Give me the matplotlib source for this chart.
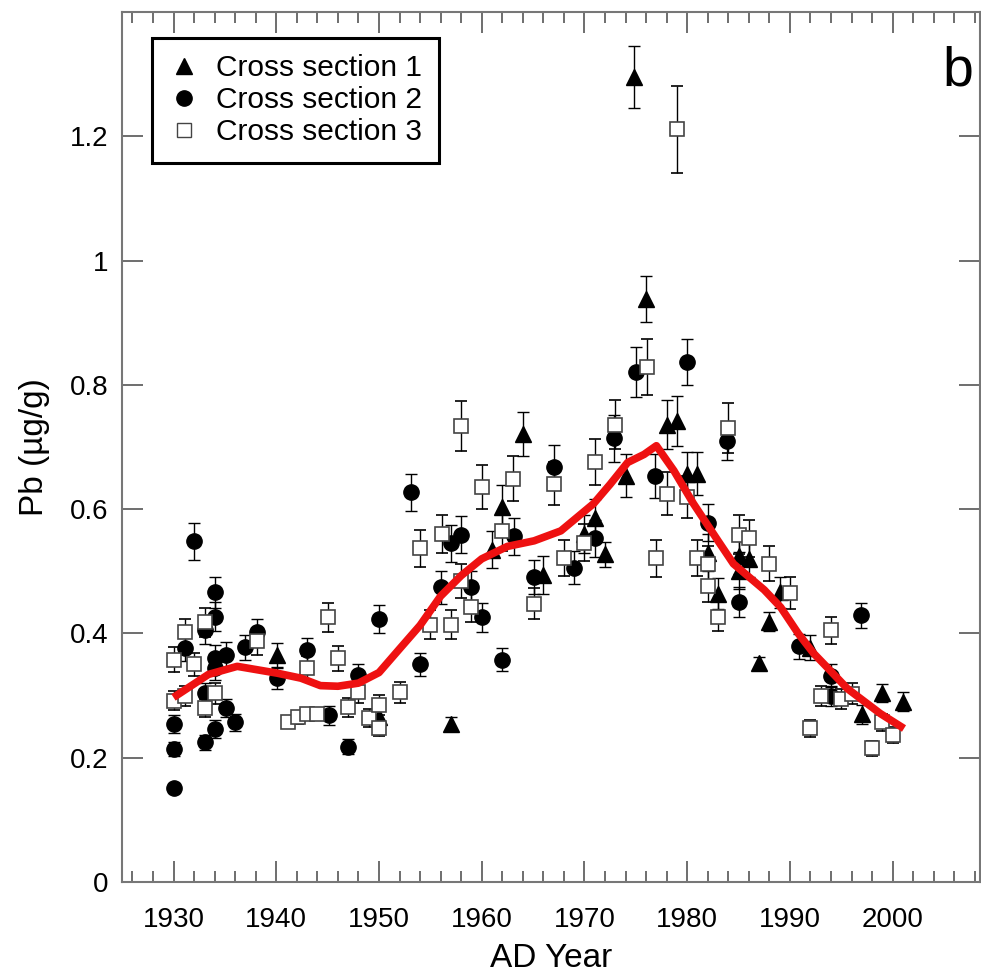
import matplotlib
matplotlib.use('Agg')
import matplotlib.pyplot as plt
from matplotlib.lines import Line2D
from matplotlib.ticker import MultipleLocator

# cross section 1 (triangles)
cs1_year = [1940.1, 1950.0, 1957.0, 1961.0, 1962.0, 1964.0, 1966.0, 1970.0, 1971.0,
            1972.0, 1974.0, 1974.8, 1976.0, 1978.0, 1979.0, 1980.0, 1981.0, 1982.0,
            1983.0, 1985.0, 1985.0, 1986.0, 1987.0, 1988.0, 1989.0, 1992.0, 1997.0,
            1999.0, 2001.0]
cs1_pb = [0.365, 0.265, 0.255, 0.535, 0.604, 0.721, 0.494, 0.560, 0.586,
          0.527, 0.654, 1.296, 0.938, 0.736, 0.742, 0.657, 0.657, 0.530,
          0.464, 0.525, 0.501, 0.520, 0.352, 0.419, 0.466, 0.377, 0.270,
          0.304, 0.290]
cs1_err = [0.020, 0.015, 0.010, 0.030, 0.035, 0.035, 0.030, 0.030, 0.030,
           0.020, 0.035, 0.050, 0.037, 0.040, 0.040, 0.035, 0.035, 0.030,
           0.025, 0.030, 0.030, 0.030, 0.010, 0.015, 0.025, 0.020, 0.015,
           0.015, 0.015]

# cross section 2 (circles)
cs2_year = [1930.0, 1930.0, 1930.0, 1931.1, 1932.0, 1933.1, 1933.1, 1933.1, 1934.0,
            1934.0, 1934.0, 1934.0, 1934.0, 1935.1, 1935.1, 1936.0, 1937.0, 1938.1,
            1940.1, 1943.0, 1945.1, 1947.0, 1948.0, 1950.0, 1953.1, 1954.0, 1956.0,
            1957.0, 1958.0, 1959.0, 1960.0, 1962.0, 1963.1, 1965.1, 1967.0, 1969.0,
            1971.0, 1972.9, 1975.0, 1976.9, 1980.0, 1982.0, 1983.9, 1985.0, 1990.9,
            1994.0, 1994.0, 1996.9]
cs2_pb = [0.254, 0.214, 0.151, 0.376, 0.548, 0.405, 0.304, 0.225, 0.466,
          0.427, 0.361, 0.344, 0.246, 0.366, 0.280, 0.257, 0.378, 0.402,
          0.328, 0.373, 0.268, 0.218, 0.333, 0.423, 0.627, 0.350, 0.474,
          0.545, 0.559, 0.474, 0.426, 0.358, 0.556, 0.491, 0.668, 0.506,
          0.553, 0.714, 0.821, 0.653, 0.837, 0.578, 0.709, 0.450, 0.379,
          0.332, 0.299, 0.429]
cs2_err = [0.015, 0.012, 0.008, 0.020, 0.030, 0.022, 0.017, 0.012, 0.025,
           0.023, 0.020, 0.019, 0.014, 0.020, 0.015, 0.014, 0.020, 0.022,
           0.018, 0.020, 0.015, 0.012, 0.018, 0.023, 0.030, 0.019, 0.026,
           0.030, 0.030, 0.026, 0.023, 0.019, 0.030, 0.027, 0.035, 0.027,
           0.030, 0.038, 0.040, 0.035, 0.037, 0.030, 0.030, 0.024, 0.020,
           0.018, 0.016, 0.020]

# cross section 3 (open squares)
cs3_year = [1930.0, 1930.0, 1931.1, 1931.1, 1932.0, 1933.1, 1933.1, 1934.0, 1938.1,
            1941.1, 1942.1, 1943.0, 1943.0, 1944.0, 1945.0, 1946.0, 1947.0, 1948.0,
            1949.0, 1950.0, 1950.0, 1952.0, 1954.0, 1955.0, 1956.1, 1957.0, 1958.0,
            1958.0, 1959.0, 1960.0, 1962.0, 1963.0, 1965.1, 1967.0, 1968.0, 1970.0,
            1971.0, 1973.0, 1976.1, 1977.0, 1978.0, 1979.0, 1980.0, 1981.0, 1982.0,
            1982.0, 1983.0, 1984.0, 1985.0, 1986.0, 1988.0, 1990.0, 1992.0, 1993.0,
            1994.0, 1995.0, 1996.0, 1998.0, 1999.0, 2000.0]
cs3_pb = [0.358, 0.292, 0.402, 0.300, 0.350, 0.418, 0.280, 0.304, 0.387,
          0.257, 0.265, 0.344, 0.270, 0.270, 0.426, 0.360, 0.281, 0.305,
          0.264, 0.285, 0.248, 0.305, 0.537, 0.414, 0.560, 0.414, 0.734,
          0.484, 0.443, 0.636, 0.564, 0.649, 0.448, 0.641, 0.521, 0.546,
          0.676, 0.736, 0.828, 0.521, 0.625, 1.211, 0.619, 0.521, 0.512,
          0.477, 0.427, 0.731, 0.559, 0.553, 0.512, 0.465, 0.247, 0.300,
          0.405, 0.295, 0.303, 0.215, 0.257, 0.236]
cs3_err = [0.020, 0.016, 0.022, 0.016, 0.019, 0.023, 0.015, 0.017, 0.021,
           0.010, 0.010, 0.019, 0.010, 0.010, 0.023, 0.020, 0.015, 0.017,
           0.014, 0.016, 0.013, 0.017, 0.030, 0.023, 0.031, 0.023, 0.040,
           0.027, 0.024, 0.035, 0.031, 0.036, 0.025, 0.035, 0.029, 0.030,
           0.037, 0.040, 0.045, 0.030, 0.034, 0.070, 0.034, 0.029, 0.028,
           0.026, 0.023, 0.040, 0.031, 0.030, 0.028, 0.026, 0.014, 0.016,
           0.022, 0.016, 0.017, 0.012, 0.014, 0.013]

# smoothed red curve
fit_year = [1930.0, 1933.4, 1936.2, 1940.1, 1942.4, 1944.3, 1946.0, 1948.0, 1950.0,
            1952.1, 1954.0, 1956.0, 1958.0, 1960.0, 1962.5, 1965.1, 1967.7, 1970.9,
            1972.5, 1974.2, 1975.8, 1977.0, 1978.7, 1980.6, 1983.0, 1984.5, 1987.5,
            1989.1, 1990.8, 1992.3, 1993.7, 1995.6, 1998.8, 2001.1]
fit_pb = [0.297, 0.334, 0.347, 0.336, 0.328, 0.316, 0.315, 0.320, 0.337,
          0.377, 0.413, 0.460, 0.493, 0.520, 0.540, 0.549, 0.565, 0.609,
          0.640, 0.675, 0.688, 0.702, 0.662, 0.609, 0.549, 0.512, 0.470,
          0.442, 0.400, 0.368, 0.344, 0.311, 0.271, 0.247]

x_ticks = [1930, 1940, 1950, 1960, 1970, 1980, 1990, 2000]
y_ticks = [0, 0.2, 0.4, 0.6, 0.8, 1.0, 1.2]
y_ticklabels = ['0', '0.2', '0.4', '0.6', '0.8', '1', '1.2']
legend_labels = ['Cross section 1', 'Cross section 2', 'Cross section 3']

plt.rcParams['font.family'] = ['Liberation Sans', 'DejaVu Sans']
plt.rcParams['font.size'] = 20

fig = plt.figure(figsize=(9.81, 9.80), dpi=100)
ax = fig.add_axes([0.1245, 0.1, 0.8745, 0.8878])

ebkw = dict(ecolor='black', elinewidth=1.0, capsize=4.5, capthick=1.0, linestyle='none')
ax.errorbar(cs1_year, cs1_pb, yerr=cs1_err, marker='^', ms=11, mfc='black', mec='black',
            zorder=3, **ebkw)
ax.errorbar(cs2_year, cs2_pb, yerr=cs2_err, marker='o', ms=11, mfc='black', mec='black',
            zorder=4, **ebkw)
ax.errorbar(cs3_year, cs3_pb, yerr=cs3_err, marker='s', ms=10, mfc='white', mec='#444444',
            mew=1.2, zorder=5, **ebkw)
ax.plot(fit_year, fit_pb, color='#ee1111', lw=5.5, solid_capstyle='butt', zorder=6)

ax.set_xlim(1925, 2008.5)
ax.set_ylim(0, 1.4)
ax.set_xticks(x_ticks)
ax.xaxis.set_minor_locator(MultipleLocator(2))
ax.set_yticks(y_ticks)
ax.set_yticklabels(y_ticklabels)

for s in ax.spines.values():
    s.set_color('#777777')
    s.set_linewidth(1.5)
ax.tick_params(which='both', direction='in', top=True, right=True, color='#555555', width=1.2)
ax.tick_params(which='major', length=15)
ax.tick_params(which='minor', length=8)
ax.tick_params(axis='x', which='major', pad=18)
ax.tick_params(axis='y', which='major', pad=10)

ax.set_xlabel('AD Year', fontsize=24, labelpad=7)
ax.set_ylabel('Pb (µg/g)', fontsize=24, labelpad=14)

handles = [Line2D([], [], ls='none', marker='^', ms=11, mfc='black', mec='black'),
           Line2D([], [], ls='none', marker='o', ms=11, mfc='black', mec='black'),
           Line2D([], [], ls='none', marker='s', ms=10, mfc='white', mec='#444444', mew=1.0)]
leg = ax.legend(handles, legend_labels, loc='upper left', bbox_to_anchor=(0.035, 0.97),
                borderaxespad=0, fancybox=False, framealpha=1, edgecolor='black',
                handlelength=1.0, handletextpad=0.6, labelspacing=0.13, borderpad=0.55,
                fontsize=21.5)
leg.get_frame().set_linewidth(2.2)
leg.set_zorder(10)

ax.text(0.974, 0.915, 'b', transform=ax.transAxes, fontsize=40, ha='center', va='baseline')

fig.savefig('out.png', dpi=100)
